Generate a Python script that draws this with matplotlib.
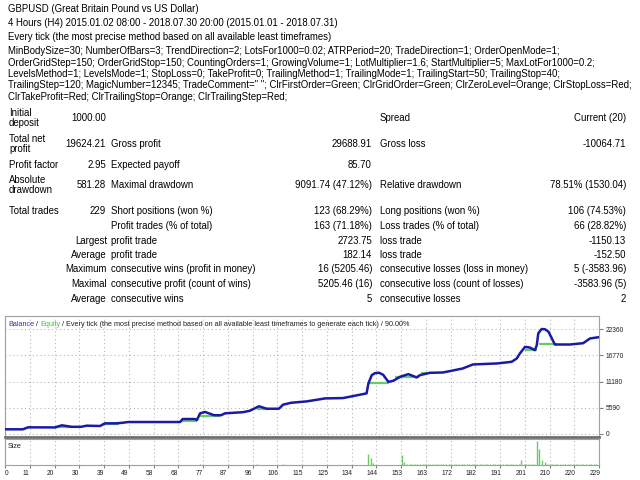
import matplotlib
matplotlib.use('Agg')
import matplotlib.pyplot as plt
from matplotlib.transforms import ScaledTranslation

plt.rcParams['font.family'] = ['Liberation Sans', 'DejaVu Sans']

# ---------------- data ----------------
header_lines = [
    "GBPUSD (Great Britain Pound vs US Dollar)",
    "4 Hours (H4) 2015.01.02 08:00 - 2018.07.30 20:00 (2015.01.01 - 2018.07.31)",
    "Every tick (the most precise method based on all available least timeframes)",
]
param_lines = [
    "MinBodySize=30; NumberOfBars=3; TrendDirection=2; LotsFor1000=0.02; ATRPeriod=20; TradeDirection=1; OrderOpenMode=1;",
    "OrderGridStep=150; OrderGridStop=150; CountingOrders=1; GrowingVolume=1; LotMultiplier=1.6; StartMultiplier=5; MaxLotFor1000=0.2;",
    "LevelsMethod=1; LevelsMode=1; StopLoss=0; TakeProfit=0; TrailingMethod=1; TrailingMode=1; TrailingStart=50; TrailingStop=40;",
    "TrailingStep=120; MagicNumber=12345; TradeComment=\" \"; ClrFirstOrder=Green; ClrGridOrder=Green; ClrZeroLevel=Orange; ClrStopLoss=Red;",
    "ClrTakeProfit=Red; ClrTrailingStop=Orange; ClrTrailingStep=Red;",
]

upper_col1 = ["Initial\ndeposit", "Total net\nprofit", "Profit factor", "Absolute\ndrawdown", "Total trades"]
upper_col2 = ["1000.00", "19624.21", "2.95", "581.28", "229"]
upper_col3 = ["", "Gross profit", "Expected payoff", "Maximal drawdown", "Short positions (won %)"]
upper_col4 = ["", "29688.91", "85.70", "9091.74 (47.12%)", "123 (68.29%)"]
upper_col5 = ["Spread", "Gross loss", "", "Relative drawdown", "Long positions (won %)"]
upper_col6 = ["Current (20)", "-10064.71", "", "78.51% (1530.04)", "106 (74.53%)"]

lower_col2 = ["", "Largest", "Average", "Maximum", "Maximal", "Average"]
lower_col3 = ["Profit trades (% of total)", "profit trade", "profit trade",
              "consecutive wins (profit in money)", "consecutive profit (count of wins)", "consecutive wins"]
lower_col4 = ["163 (71.18%)", "2723.75", "182.14", "16 (5205.46)", "5205.46 (16)", "5"]
lower_col5 = ["Loss trades (% of total)", "loss trade", "loss trade",
              "consecutive losses (loss in money)", "consecutive loss (count of losses)", "consecutive losses"]
lower_col6 = ["66 (28.82%)", "-1150.13", "-152.50", "5 (-3583.96)", "-3583.96 (5)", "2"]

chart_title_rest = " / Every tick (the most precise method based on all available least timeframes to generate each tick) / 90.00%"

# balance curve (trade number, money)
bal_trade = [0, 6.9, 8.9, 19.3, 21.9, 25.7, 29.3, 31.5, 36.6, 38.6, 42.8, 45.5, 47.4, 67.5, 68.5,
             73.2, 74.0, 75.2, 77.1, 80.6, 83.3, 84.8, 91.8, 94.4, 97.9, 100.9, 105.6, 107.2, 110.3,
             116.4, 119.5, 123.4, 130.3, 134.2, 139.4, 140.1, 141.4, 142.6, 144.2, 145.8, 147.8, 149.7,
             152.3, 155.5, 158.7, 160.0, 163.8, 168.8, 171.5, 176.5, 180.4, 189.6, 195.3, 197.3, 198.5,
             200.5, 202.4, 204.3, 205.0, 205.6, 206.9, 208.2, 209.5, 210.8, 212.0, 217.8, 222.9, 225.5, 229]
bal_value = [1000, 1000, 1420, 1400, 1850, 1530, 1530, 1770, 1700, 2270, 2270, 2400, 2550, 2550, 3190,
             3190, 2975, 4400, 4700, 4000, 4000, 4400, 4650, 4950, 5900, 5380, 5380, 6250, 6650,
             6950, 7225, 7580, 7650, 8075, 8650, 10770, 12540, 12950, 13050, 12600, 11100, 11330,
             12180, 12750, 12050, 12540, 13030, 13100, 13390, 13960, 14810, 15020, 15370, 16090, 17150,
             18560, 18400, 17850, 18900, 21450, 22360, 22300, 21800, 20380, 19060, 19060, 19340, 20340, 20624]

# equity flats (start trade, end trade, money)
eq_start = [19.3, 37.5, 68.0, 75.0, 97.0, 140.0, 150.5, 160.5, 200.3, 206.0]
eq_end   = [25.7, 44.0, 74.0, 83.0, 101.0, 148.0, 159.5, 164.0, 205.0, 213.0]
eq_value = [1400, 2100, 2830, 3900, 5300, 10930, 12080, 12930, 17890, 19100]

# lot sizes
size_trade = [37, 75, 97, 107, 140, 141, 142, 153, 154, 199, 205, 206, 207, 208]
size_value = [0.1, 0.1, 0.1, 0.1, 1.07, 0.67, 0.23, 1.0, 0.33, 0.5, 2.4, 1.6, 0.55, 0.33]
min_lot_trades = [t for t in range(155, 230) if t not in size_trade]
min_lot_value = 0.1

y_ticks = [0, 5590, 11180, 16770, 22360]
x_tick_labels = ["0", "11", "20", "30", "39", "49", "58", "68", "77", "87", "96", "106", "115",
                 "125", "134", "144", "153", "163", "172", "182", "191", "201", "210", "220", "229"]
n_trades = 229

# ---------------- figure ----------------
W, H = 640, 480
fig = plt.figure(figsize=(6.4, 4.8), dpi=100)
fig.patch.set_facecolor('white')


def P(x, y):
    return x / W, 1 - y / H


def T(x, y, s, ha='left', size=7, color='black', **kw):
    return fig.text(*P(x, y), s, ha=ha, va='center', fontsize=size, color=color, **kw)


def fit(texts, target_px):
    fig.canvas.draw()
    r = fig.canvas.get_renderer()
    w = texts[0].get_window_extent(r).width
    return texts[0].get_fontsize() * target_px / w


probe = T(8, -50, param_lines[3], size=10)
FS = fit([probe], 628)
probe.remove()

header_y = [8.5, 23, 37]
param_y = [51, 62.5, 74, 85.5, 97]
for s, y in zip(header_lines, header_y):
    T(8, y, s, size=FS)
for s, y in zip(param_lines, param_y):
    T(8, y, s, size=FS)

upper_y = [118, 144, 165.5, 185, 211.5]
for i, y in enumerate(upper_y):
    T(9, y, upper_col1[i], size=FS, linespacing=0.95)
    T(106, y, upper_col2[i], ha='right', size=FS)
    T(111, y, upper_col3[i], size=FS)
    T(372, y, upper_col4[i], ha='right', size=FS)
    T(380, y, upper_col5[i], size=FS)
    T(626, y, upper_col6[i], ha='right', size=FS)

lower_y = [226, 240.5, 255, 269.5, 284, 298.5]
for i, y in enumerate(lower_y):
    T(107, y, lower_col2[i], ha='right', size=FS)
    T(111, y, lower_col3[i], size=FS)
    T(372, y, lower_col4[i], ha='right', size=FS)
    T(380, y, lower_col5[i], size=FS)
    T(626, y, lower_col6[i], ha='right', size=FS)

# ---------------- chart ----------------
L, R = 5, 599
ax = fig.add_axes([L / W, 1 - 437 / H, (R - L) / W, (437 - 316) / H])
ax2 = fig.add_axes([L / W, 1 - 465 / H, (R - L) / W, (465 - 438.5) / H])

x_ticks = [k * n_trades / (len(x_tick_labels) - 1) for k in range(len(x_tick_labels))]
grid_kw = dict(color='#b8b8b8', linestyle=(0, (1, 2.5)), linewidth=0.8)

for a in (ax, ax2):
    a.set_xlim(0, n_trades)
    a.set_xticks(x_ticks)
    a.grid(True, axis='x', **grid_kw)
    for sp in a.spines.values():
        sp.set_color('#a0a0a0')
        sp.set_linewidth(0.8)
    a.set_axisbelow(True)

ax.set_ylim(-640, 25130)
ax.set_yticks(y_ticks)
ax.set_yticklabels([str(v) for v in y_ticks])
ax.yaxis.tick_right()
ax.grid(True, axis='y', **grid_kw)
ax.tick_params(axis='y', direction='out', length=3, width=0.8, color='#808080',
               labelsize=4.8, pad=1.5, labelcolor='#202020')
ax.tick_params(axis='x', length=0, labelbottom=False)
ax.spines['bottom'].set_color('#707070')
ax.spines['bottom'].set_linewidth(2)

ax.hlines(eq_value, eq_start, eq_end, color='#66cc66', linewidth=1.6, zorder=2)
ax.plot(bal_trade, bal_value, color='#1a1aa8', linewidth=1.8, zorder=3, solid_joinstyle='round')

ax.text(0.005, 0.935, "Balance", transform=ax.transAxes, fontsize=5.2, color='#3030b0', va='center')
tt = fig.text(0, 0, "", fontsize=5.2)

# chart title, coloured parts placed one after another
fig.canvas.draw()
r = fig.canvas.get_renderer()
t1 = fig.text(*P(8, 324), "Balance", fontsize=5.2, color='#3535b5', va='center')
ax.texts[0].remove()
fig.canvas.draw()
x = 8 + t1.get_window_extent(r).width
t2 = fig.text(*P(x, 324), " / ", fontsize=5.2, color='#202020', va='center')
fig.canvas.draw()
x += t2.get_window_extent(r).width
t3 = fig.text(*P(x, 324), "Equity", fontsize=5.2, color='#40c040', va='center')
fig.canvas.draw()
x += t3.get_window_extent(r).width
t4 = fig.text(*P(x, 324), chart_title_rest, fontsize=5.2, color='#202020', va='center')

ax2.set_ylim(0, 2.7)
ax2.set_yticks([])
ax2.vlines(size_trade, 0, size_value, color='#66cc66', linewidth=1.0)
ax2.vlines(min_lot_trades, 0, min_lot_value, color='#66cc66', linewidth=1.0)
ax2.set_xticklabels(x_tick_labels)
ax2.tick_params(axis='x', direction='out', length=2, width=0.8, color='#808080',
                labelsize=4.8, pad=1.5, labelcolor='#202020')
off = ScaledTranslation(-4 / 100, 0, fig.dpi_scale_trans)
for i, lab in enumerate(ax2.get_xticklabels()):
    if i == 0:
        lab.set_ha('left')
    else:
        lab.set_transform(lab.get_transform() + off)
ax2.text(0.005, 0.7, "Size", transform=ax2.transAxes, fontsize=5.2, color='#202020', va='center')

fig.savefig('out.png', dpi=100, facecolor='white')
